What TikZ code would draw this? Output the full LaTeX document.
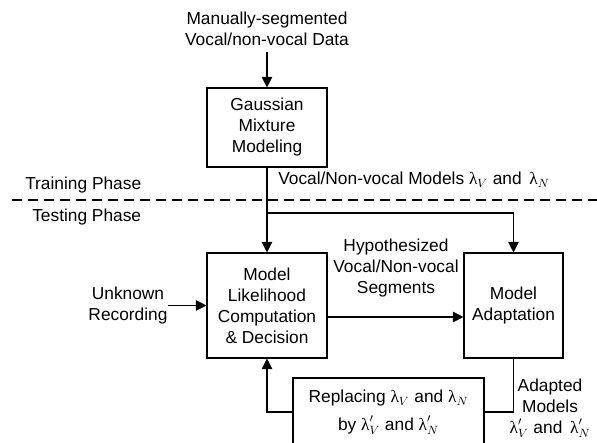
\documentclass[tikz,border=0pt]{standalone}
\usepackage{amsmath, amssymb}
\usepackage{fontspec}
\setmainfont{Liberation Sans}
\newfontfamily\lamfont{Liberation Serif}
\usepackage{tikz}
\usetikzlibrary{
  positioning,
  calc,
  arrows.meta
}

% upright serif lambda, as in the figure
\newcommand{\lamV}{$\text{\lamfont λ}_{V}$}
\newcommand{\lamN}{$\text{\lamfont λ}_{N}$}
\newcommand{\lamVp}{$\text{\lamfont λ}'_{V}$}
\newcommand{\lamNp}{$\text{\lamfont λ}'_{N}$}

\tikzset{
  blockbox/.style={draw, line width=0.8pt, align=center, inner sep=0pt},
  plaintext/.style={align=center, inner sep=0pt},
  flowline/.style={line width=0.8pt},
  flowarrow/.style={line width=0.8pt, -{Triangle[length=8pt,width=8pt]}}
}

\begin{document}
\begin{tikzpicture}[x=0.75pt, y=-0.75pt, font=\fontsize{13}{15.75}\selectfont]
      \useasboundingbox (0,0) rectangle (597,443);
      \clip (0,0) rectangle (597,443);

      % Training part
      \node[plaintext] (data) at (267,28.5) {Manually-segmented\\Vocal/non-vocal Data};
      \node[blockbox, minimum width=120*0.75pt, minimum height=79*0.75pt] (gmm) at (267,127.5)
        {Gaussian\\Mixture\\Modeling};
      \node[plaintext, anchor=west] (train) at (25,185) {Training Phase};
      \node[plaintext, anchor=west] (models) at (278,180)
        {Vocal/Non-vocal Models \lamV{} and\, \lamN};

      % Phase border
      \draw[line width=0.8pt, dash pattern=on 7.5pt off 4.5pt] (12,200) -- (597,200);
      \node[plaintext, anchor=west] (test) at (32,217) {Testing Phase};

      % Testing part
      \node[blockbox, minimum width=120*0.75pt, minimum height=105*0.75pt] (lik) at (267,305.5)
        {Model\\Likelihood\\Computation\\\& Decision};
      \node[blockbox, minimum width=99*0.75pt, minimum height=105*0.75pt] (adapt) at (513.5,305.5)
        {Model\\Adaptation};
      \node[blockbox, minimum width=191*0.75pt, minimum height=68*0.75pt] (repl) at (388.5,412)
        {Replacing \lamV{} and \lamN\\[5pt]by \lamVp{} and \lamNp};
      \node[plaintext] (unk) at (128,305.5) {Unknown\\Recording};
      \node[plaintext] (hyp) at (396,268) {Hypothesized\\Vocal/Non-vocal\\Segments};
      \node[plaintext] (adm) at (550,408) {Adapted\\Models\\\lamVp{} and\, \lamNp};
      \coordinate (split) at (267,213);

      % Connectors
      \draw[flowarrow, shorten <=5pt] (data) -- (gmm);
      \draw[flowarrow] (gmm) -- (lik);
      \draw[flowarrow] (split) -| (adapt.north);
      \draw[flowarrow] (unk) -- (lik);
      \draw[flowarrow] (lik.east |- 0,317) -- (adapt.west |- 0,317);
      \draw[flowline] (adapt.south) |- (repl.east);
      \draw[flowarrow] (repl.west) -| (lik.south);
    \end{tikzpicture}
\end{document}
